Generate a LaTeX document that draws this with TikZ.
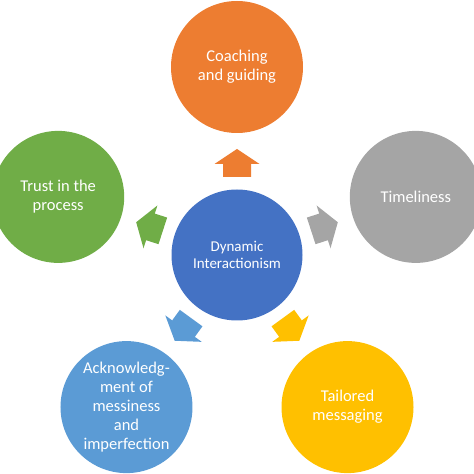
\documentclass[tikz,border=0pt]{standalone}
\usepackage{fontspec}
\setmainfont{Carlito}
\usetikzlibrary{calc}
\definecolor{corange}{HTML}{ED7D31}
\definecolor{cgreen}{HTML}{70AD47}
\definecolor{cgray}{HTML}{A5A5A5}
\definecolor{cblue}{HTML}{4472C4}
\definecolor{clblue}{HTML}{5B9BD5}
\definecolor{cgold}{HTML}{FFC000}
\tikzset{
  bubble/.style={circle, fill=#1, draw=none, minimum size=132pt, inner sep=0pt,
    text=white, align=center, font=\fontsize{16.5}{19}\selectfont},
  hub/.style={circle, fill=cblue, draw=none, minimum size=131pt, inner sep=0pt,
    text=white, align=center, font=\fontsize{15}{17}\selectfont},
  pics/blockarrow/.style={code={
    \fill[#1] (14,0) -- (-1,22.5) -- (-1,14) -- (-14,14) -- (-14,-14) -- (-1,-14) -- (-1,-22.5) -- cycle;}}
}
\begin{document}
\begin{tikzpicture}[x=1pt,y=1pt]
\useasboundingbox (0,0) rectangle (474,474);
\node[hub] (c) at (237,219) {Dynamic\\Interactionism};
\node[bubble=corange] (top) at ($(c)+(90:188)$) {Coaching\\and guiding};
\node[bubble=cgreen] (left) at ($(c)+(162:188)$) {Trust in the\\process};
\node[bubble=cgray] (right) at ($(c)+(18:188)$) {Timeliness};
\node[bubble=clblue] (bl) at ($(c)+(-126:188)$) {Acknowledg-\\ment of\\messiness\\and\\imperfection};
\node[bubble=cgold] (br) at ($(c)+(-54:188)$) {Tailored\\messaging};
\pic[rotate=90] at ($(c)+(90:92)$) {blockarrow=corange};
\pic[rotate=162] at ($(c)+(162:92)$) {blockarrow=cgreen};
\pic[rotate=18] at ($(c)+(18:92)$) {blockarrow=cgray};
\pic[rotate=-126] at ($(c)+(-126:92)$) {blockarrow=clblue};
\pic[rotate=-54] at ($(c)+(-54:92)$) {blockarrow=cgold};
\end{tikzpicture}
\end{document}
